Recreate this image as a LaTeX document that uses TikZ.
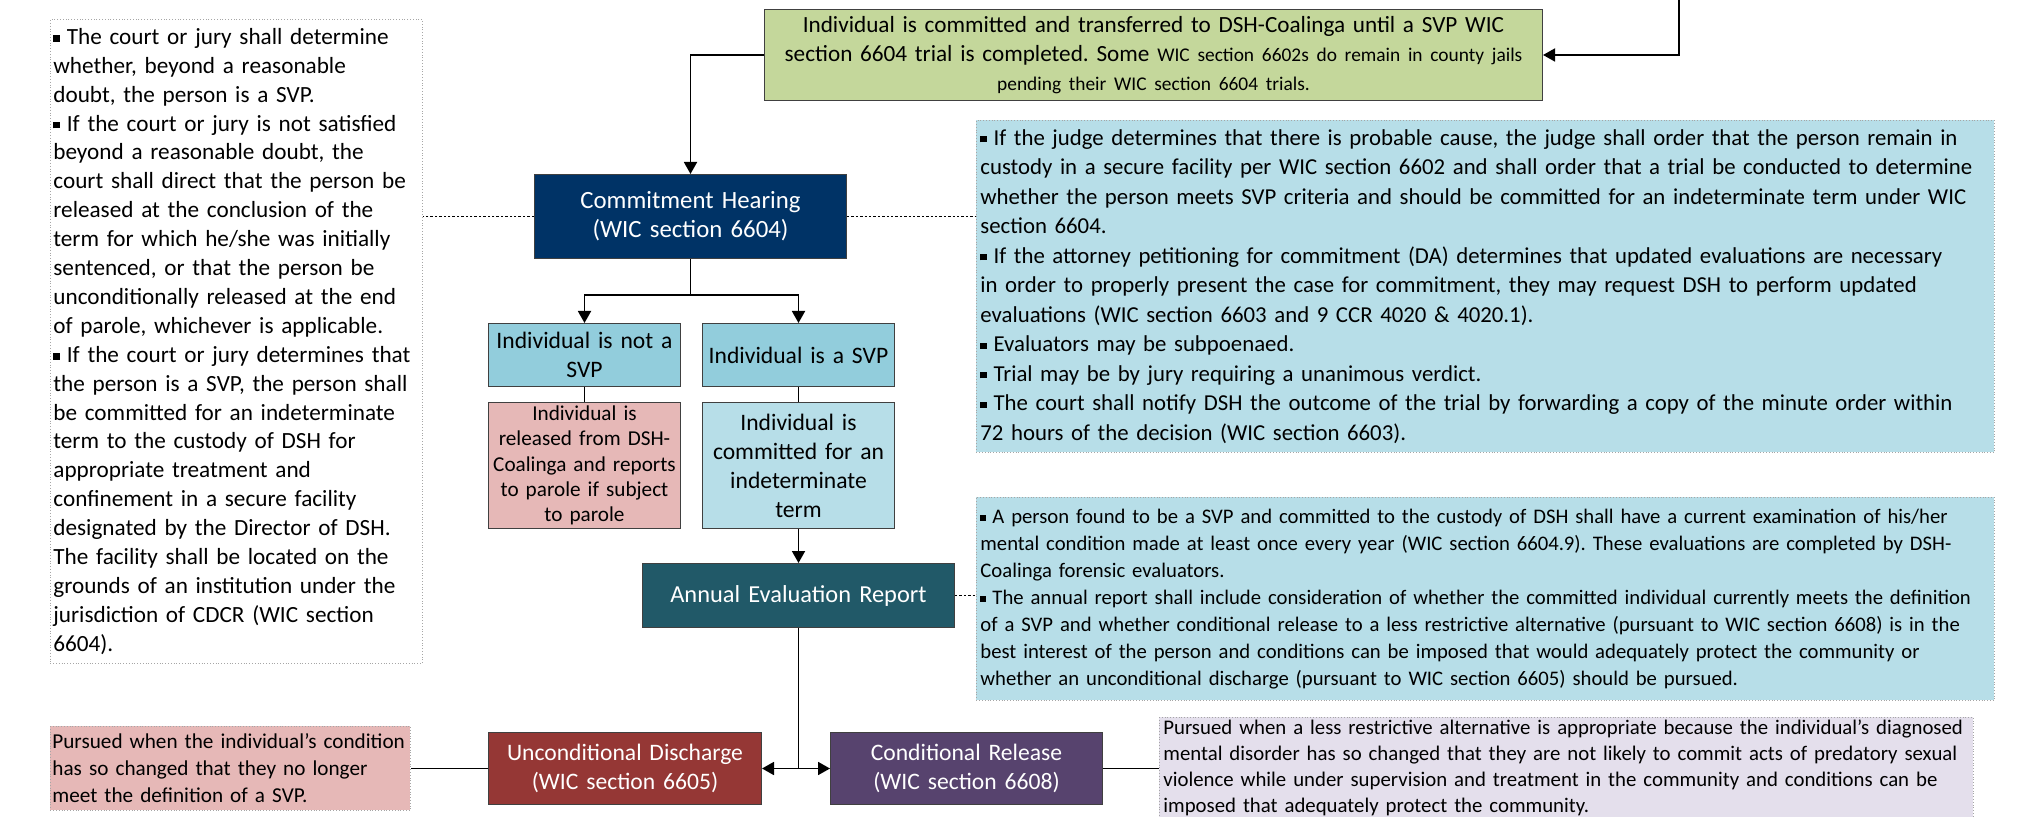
\documentclass[tikz,border=0pt]{standalone}
\usepackage{fontspec}
\setmainfont{Carlito}
\usepackage{tikz}
\usetikzlibrary{arrows.meta,positioning,calc}
\definecolor{navybox}{HTML}{003366}
\definecolor{greenbox}{HTML}{C4D79B}
\definecolor{lightblue}{HTML}{B7DEE8}
\definecolor{midblue}{HTML}{92CDDC}
\definecolor{pinkbox}{HTML}{E6B8B7}
\definecolor{tealbox}{HTML}{215968}
\definecolor{redbox}{HTML}{953735}
\definecolor{purplebox}{HTML}{57436E}
\definecolor{lilacbox}{HTML}{E4DFEC}
\newcommand{\sqbul}{\rule[0.12em]{0.28em}{0.28em}\hspace{0.3em}}
\frenchspacing
\hyphenpenalty=10000

\begin{document}
\begin{tikzpicture}[
    x=1pt, y=-1pt,
    >={Triangle[length=6pt,width=6.5pt]},
    note_box/.style={draw=gray!70, densely dotted, line width=0.4pt, anchor=north west, align=left, inner xsep=2pt, inner ysep=1pt},
    proc_node/.style={draw=black!75, line width=0.5pt, anchor=north west, align=center, inner xsep=2pt, inner ysep=1pt},
    flow_edge/.style={line width=0.9pt},
    link_edge/.style={line width=0.8pt, dash pattern=on 1.2pt off 1pt}
]
\useasboundingbox (0,0) rectangle (1010.5,408.5);

% --- NODES ---
\node[note_box, fill=white, inner xsep=1.5pt, text width=183pt, minimum height=322pt, font=\fontsize{11.6}{14.45}\selectfont] (court_note) at (25,9.5) {%
\sqbul The court or jury shall determine\\
whether, beyond a reasonable\\
doubt, the person is a SVP.\\
\sqbul If the court or jury is not satisfied\\
beyond a reasonable doubt, the\\
court shall direct that the person be\\
released at the conclusion of the\\
term for which he/she was initially\\
sentenced, or that the person be\\
unconditionally released at the end\\
of parole, whichever is applicable.\\
\sqbul If the court or jury determines that\\
the person is a SVP, the person shall\\
be committed for an indeterminate\\
term to the custody of DSH for\\
appropriate treatment and\\
confinement in a secure facility\\
designated by the Director of DSH.\\
The facility shall be located on the\\
grounds of an institution under the\\
jurisdiction of CDCR (WIC section\\
6604).};

\node[proc_node, fill=greenbox, text width=385pt, minimum height=45.5pt, font=\fontsize{11.6}{14.5}\selectfont] (custody) at (382,4.5) {%
Individual is committed and transferred to DSH-Coalinga until a SVP WIC\\
section 6604 trial is completed. Some {\fontsize{9.7}{14.5}\selectfont WIC section 6602s do remain in county jails}\\
{\fontsize{9.7}{14.5}\selectfont pending their WIC section 6604 trials.}};

\node[proc_node, fill=navybox, text=white, text width=152pt, minimum height=42pt, font=\fontsize{12.4}{14.5}\selectfont] (hearing) at (267,87) {Commitment Hearing\\(WIC section 6604)};

\node[proc_node, fill=midblue, text width=92pt, minimum height=31.5pt, font=\fontsize{11.8}{14.5}\selectfont] (notsvp) at (244,161.5) {Individual is not a\\SVP};
\node[proc_node, fill=midblue, text width=92pt, minimum height=31.5pt, font=\fontsize{11.8}{14.5}\selectfont] (issvp) at (351,161.5) {Individual is a SVP};

\node[proc_node, fill=pinkbox, text width=92pt, minimum height=63pt, font=\fontsize{10.6}{12.65}\selectfont] (released) at (244,201) {Individual is\\released from DSH-\\Coalinga and reports\\to parole if subject\\to parole};
\node[proc_node, fill=lightblue, text width=92pt, minimum height=63pt, font=\fontsize{11.8}{14.5}\selectfont] (committed) at (351,201) {Individual is\\committed for an\\indeterminate\\term};

\node[proc_node, fill=tealbox, text=white, text width=152pt, minimum height=32pt, font=\fontsize{12.2}{14.5}\selectfont] (annual) at (321,281.5) {Annual Evaluation Report};

\node[note_box, fill=lightblue, text width=505pt, minimum height=166pt, font=\fontsize{11.4}{14.75}\selectfont] (probable_note) at (488,60) {%
\sqbul If the judge determines that there is probable cause, the judge shall order that the person remain in\\
custody in a secure facility per WIC section 6602 and shall order that a trial be conducted to determine\\
whether the person meets SVP criteria and should be committed for an indeterminate term under WIC\\
section 6604.\\
\sqbul If the attorney petitioning for commitment (DA) determines that updated evaluations are necessary\\
in order to properly present the case for commitment, they may request DSH to perform updated\\
evaluations (WIC section 6603 and 9 CCR 4020 \& 4020.1).\\
\sqbul Evaluators may be subpoenaed.\\
\sqbul Trial may be by jury requiring a unanimous verdict.\\
\sqbul The court shall notify DSH the outcome of the trial by forwarding a copy of the minute order within\\
72 hours of the decision (WIC section 6603).};

\node[note_box, fill=lightblue, text width=505pt, minimum height=101.5pt, font=\fontsize{10.35}{13.5}\selectfont] (annual_note) at (488,248.5) {%
\sqbul A person found to be a SVP and committed to the custody of DSH shall have a current examination of his/her\\
mental condition made at least once every year (WIC section 6604.9). These evaluations are completed by DSH-\\
Coalinga forensic evaluators.\\
\sqbul The annual report shall include consideration of whether the committed individual currently meets the definition\\
of a SVP and whether conditional release to a less restrictive alternative (pursuant to WIC section 6608) is in the\\
best interest of the person and conditions can be imposed that would adequately protect the community or\\
whether an unconditional discharge (pursuant to WIC section 6605) should be pursued.};

\node[proc_node, fill=redbox, text=white, text width=132.5pt, minimum height=36pt, font=\fontsize{11.8}{14.5}\selectfont] (uncond) at (244,366) {Unconditional Discharge\\(WIC section 6605)};
\node[proc_node, fill=purplebox, text=white, text width=132pt, minimum height=36pt, font=\fontsize{11.8}{14.5}\selectfont] (cond) at (415,366) {Conditional Release\\(WIC section 6608)};

\node[note_box, fill=pinkbox, inner xsep=1pt, text width=178pt, minimum height=42pt, font=\fontsize{10.6}{13.5}\selectfont] (uncond_note) at (25,363) {%
Pursued when the individual’s condition\\
has so changed that they no longer\\
meet the definition of a SVP.};
\node[note_box, fill=lilacbox, text width=403pt, minimum height=50pt, font=\fontsize{10.4}{13}\selectfont] (cond_note) at (579.5,358.5) {%
Pursued when a less restrictive alternative is appropriate because the individual’s diagnosed\\
mental disorder has so changed that they are not likely to commit acts of predatory sexual\\
violence while under supervision and treatment in the community and conditions can be\\
imposed that adequately protect the community.};

\coordinate (feed) at (839.5,0);
\coordinate[below=18pt of hearing] (split);
\coordinate (fork) at (annual.south |- uncond.east);

% --- EDGES ---
\draw[flow_edge, ->] (feed) |- (custody.east);
\draw[flow_edge, ->] (custody.west) -| (hearing.north);
\draw[flow_edge] (hearing) -- (split);
\draw[flow_edge, ->] (split) -| (notsvp.north);
\draw[flow_edge, ->] (split) -| (issvp.north);
\draw[flow_edge] (notsvp) -- (released);
\draw[flow_edge] (issvp) -- (committed);
\draw[flow_edge, ->] (committed) -- (annual);
\draw[flow_edge] (annual) -- (fork);
\draw[flow_edge, ->] (fork) -- (uncond.east);
\draw[flow_edge, ->] (fork) -- (cond.west);
\draw[flow_edge] (uncond.west) -- (uncond.west -| uncond_note.east);
\draw[flow_edge] (cond.east) -- (cond.east -| cond_note.west);

% notes hang off the process boxes
\draw[link_edge] (hearing.west) -- (hearing.west -| court_note.east);
\draw[link_edge] (hearing.east) -- (hearing.east -| probable_note.west);
\draw[link_edge] (annual.east) -- (annual.east -| annual_note.west);

\end{tikzpicture}
\end{document}
